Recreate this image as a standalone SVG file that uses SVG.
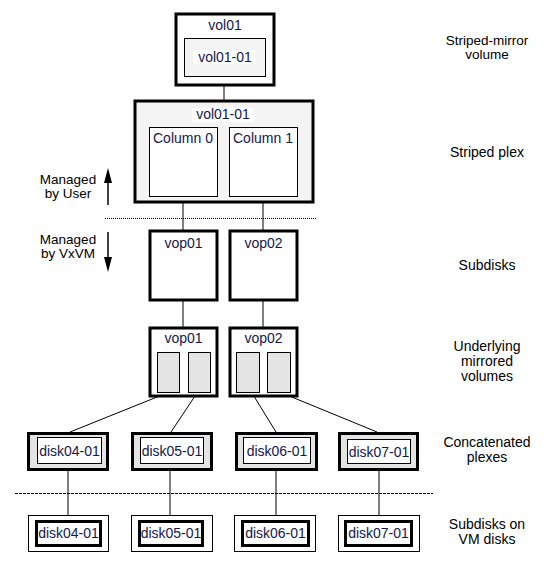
<svg xmlns="http://www.w3.org/2000/svg" width="553" height="562" viewBox="0 0 553 562">
<style>
text{font-family:"Liberation Sans",Arial,sans-serif;font-size:14px;}
.nt{fill:#14184a;}
.lb{fill:#000;text-anchor:middle;}
.sm{font-size:13.5px;}
.ctr{text-anchor:middle;}
.thick{stroke:#000;stroke-width:3;}
.thin{stroke:#000;stroke-width:1;}
.light{fill:#f4f4f4;}
.gray{fill:#e4e4e4;}
.white{fill:#fff;}
.con{stroke:#000;stroke-width:1;fill:none;}
.arr{fill:#000;}
</style>
<rect width="553" height="562" fill="#fff"/>

<g id="connectors">
<line class="con" x1="224" y1="77" x2="224" y2="101"/>
<line class="con" x1="183" y1="197" x2="183" y2="230"/>
<line class="con" x1="263" y1="197" x2="263" y2="230"/>
<line class="con" x1="183" y1="301" x2="183" y2="327"/>
<line class="con" x1="263" y1="301" x2="263" y2="327"/>
<line class="con" x1="167" y1="393" x2="70" y2="432"/>
<line class="con" x1="197" y1="393" x2="171" y2="432"/>
<line class="con" x1="252" y1="393" x2="276" y2="432"/>
<line class="con" x1="282" y1="393" x2="377" y2="432"/>
<line class="con" x1="68" y1="471" x2="68" y2="521"/>
<line class="con" x1="170" y1="471" x2="170" y2="521"/>
<line class="con" x1="276" y1="471" x2="276" y2="521"/>
<line class="con" x1="379" y1="471" x2="379" y2="521"/>
<line x1="105" y1="218.5" x2="316" y2="218.5" stroke="#000" stroke-width="1" stroke-dasharray="1,1"/>
<line x1="15" y1="493.5" x2="433" y2="493.5" stroke="#000" stroke-width="1" stroke-dasharray="3,1"/>
<line x1="108" y1="205" x2="108" y2="180" stroke="#000" stroke-width="1.5"/>
<polygon class="arr" points="108,168 112,183 104,183"/>
<line x1="108" y1="232" x2="108" y2="260" stroke="#000" stroke-width="1.5"/>
<polygon class="arr" points="108,272 112,257 104,257"/>
</g>

<g id="vol01">
<rect x="176" y="14" width="98" height="71" class="white thick"/>
<text x="225" y="30" class="nt ctr">vol01</text>
<rect x="184.5" y="38.5" width="81" height="38" class="light thin"/>
<rect x="193" y="50" width="63" height="14" class="white"/>
<text x="225" y="62" class="nt ctr">vol01-01</text>
</g>

<g id="plex">
<rect x="135" y="101" width="178" height="101" class="light thick"/>
<rect x="192" y="108" width="62" height="14" class="white"/>
<text x="223" y="119" class="nt ctr">vol01-01</text>
<rect x="149.5" y="127.5" width="68" height="69" class="white thin"/>
<text x="153" y="143" class="nt">Column 0</text>
<rect x="229.5" y="127.5" width="68" height="69" class="white thin"/>
<text x="233" y="143" class="nt">Column 1</text>
</g>

<g id="sd-vop01">
<rect x="150" y="231" width="67" height="69" class="white thick"/>
<text x="183.5" y="248" class="nt ctr">vop01</text>
</g>
<g id="sd-vop02">
<rect x="230" y="231" width="67" height="69" class="white thick"/>
<text x="263.5" y="248" class="nt ctr">vop02</text>
</g>

<g id="vol-vop01">
<rect x="150" y="328" width="67" height="68" class="white thick"/>
<text x="183.5" y="343" class="nt ctr">vop01</text>
<rect x="157.5" y="352.5" width="22" height="40" class="gray thin"/>
<rect x="188.5" y="352.5" width="22" height="40" class="gray thin"/>
</g>
<g id="vol-vop02">
<rect x="230" y="328" width="67" height="68" class="white thick"/>
<text x="263.5" y="343" class="nt ctr">vop02</text>
<rect x="236.5" y="352.5" width="23" height="40" class="gray thin"/>
<rect x="267.5" y="352.5" width="23" height="40" class="gray thin"/>
</g>

<g id="plex-disk04">
<rect x="28.5" y="433.5" width="79" height="36" class="gray thick"/>
<rect x="37.5" y="437.5" width="64" height="26" class="white thin"/>
<text x="69.5" y="456" class="nt ctr">disk04-01</text>
</g>
<g id="plex-disk05">
<rect x="132.5" y="433.5" width="79" height="36" class="gray thick"/>
<rect x="140.5" y="437.5" width="63" height="26" class="white thin"/>
<text x="172" y="456" class="nt ctr">disk05-01</text>
</g>
<g id="plex-disk06">
<rect x="236.5" y="433.5" width="80" height="36" class="gray thick"/>
<rect x="243.5" y="437.5" width="67" height="26" class="white thin"/>
<text x="277" y="456" class="nt ctr">disk06-01</text>
</g>
<g id="plex-disk07">
<rect x="339.5" y="433.5" width="78" height="36" class="gray thick"/>
<rect x="347.5" y="439.5" width="63" height="24" class="white thin"/>
<text x="379" y="457" class="nt ctr">disk07-01</text>
</g>

<g id="sd-disk04">
<rect x="28.5" y="515.5" width="80" height="36" class="white thin"/>
<rect x="36.5" y="521.5" width="64" height="24" class="white thick"/>
<text x="68.5" y="538" class="nt ctr">disk04-01</text>
</g>
<g id="sd-disk05">
<rect x="131.5" y="515.5" width="81" height="36" class="white thin"/>
<rect x="139.5" y="521.5" width="63" height="24" class="white thick"/>
<text x="171" y="538" class="nt ctr">disk05-01</text>
</g>
<g id="sd-disk06">
<rect x="234.5" y="515.5" width="81" height="36" class="white thin"/>
<rect x="242.5" y="521.5" width="66" height="24" class="white thick"/>
<text x="275.5" y="538" class="nt ctr">disk06-01</text>
</g>
<g id="sd-disk07">
<rect x="338.5" y="515.5" width="81" height="36" class="white thin"/>
<rect x="345.5" y="521.5" width="66" height="24" class="white thick"/>
<text x="378.5" y="538" class="nt ctr">disk07-01</text>
</g>

<g id="labels">
<text x="487" y="45" class="lb sm">Striped-mirror</text>
<text x="487" y="59" class="lb sm">volume</text>
<text x="487" y="157" class="lb">Striped plex</text>
<text x="487" y="270" class="lb">Subdisks</text>
<text x="487" y="351" class="lb">Underlying</text>
<text x="487" y="366" class="lb">mirrored</text>
<text x="487" y="381" class="lb">volumes</text>
<text x="487" y="447" class="lb">Concatenated</text>
<text x="487" y="462" class="lb">plexes</text>
<text x="487" y="529" class="lb">Subdisks on</text>
<text x="487" y="544" class="lb">VM disks</text>
<text x="68" y="184" class="lb sm">Managed</text>
<text x="68" y="198" class="lb sm">by User</text>
<text x="68" y="244" class="lb sm">Managed</text>
<text x="68" y="258" class="lb sm">by VxVM</text>
</g>
</svg>
